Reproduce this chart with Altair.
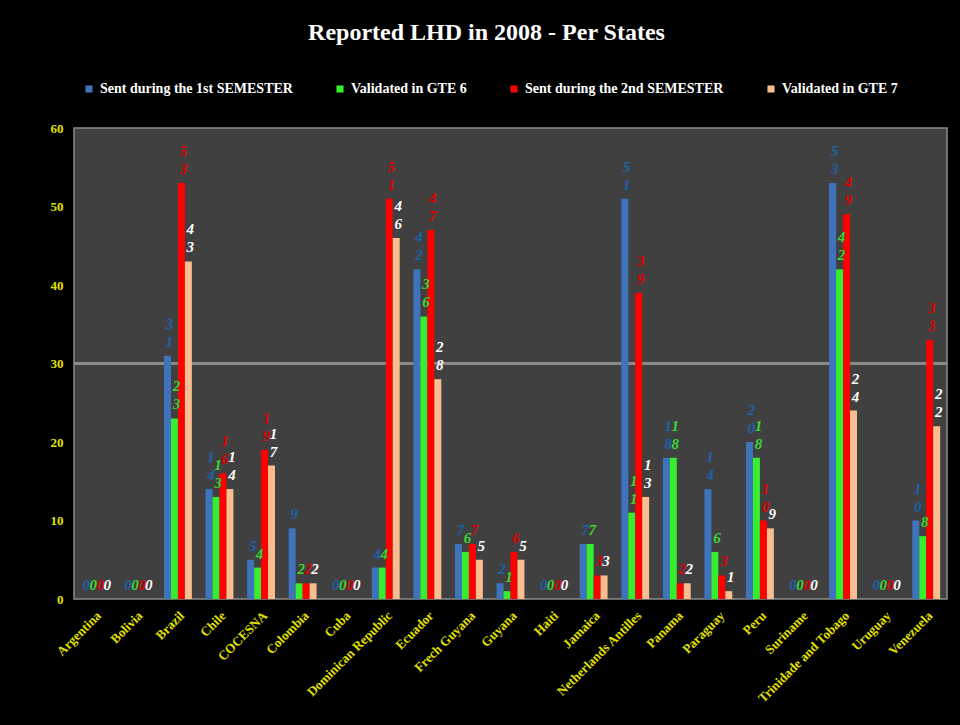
import altair as alt
import pandas as pd

countries = ["Argentina", "Bolivia", "Brazil", "Chile", "COCESNA", "Colombia", "Cuba",
             "Dominican Republic", "Ecuador", "Frech Guyana", "Guyana", "Haiti", "Jamaica",
             "Netherlands Antilles", "Panama", "Paraguay", "Peru", "Suriname",
             "Trinidade and Tobago", "Uruguay", "Venezuela"]
series_names = ["Sent during the 1st SEMESTER", "Validated in GTE 6",
                "Sent during the 2nd SEMESTER", "Validated in GTE 7"]
sent_s1 = [0, 0, 31, 14, 5, 9, 0, 4, 42, 7, 2, 0, 7, 51, 18, 14, 20, 0, 53, 0, 10]
gte6 = [0, 0, 23, 13, 4, 2, 0, 4, 36, 6, 1, 0, 7, 11, 18, 6, 18, 0, 42, 0, 8]
sent_s2 = [0, 0, 53, 16, 19, 2, 0, 51, 47, 7, 6, 0, 3, 39, 2, 3, 10, 0, 49, 0, 33]
gte7 = [0, 0, 43, 14, 17, 2, 0, 46, 28, 5, 5, 0, 3, 13, 2, 1, 9, 0, 24, 0, 22]
y_ticks = [0, 10, 20, 30, 40, 50, 60]

bar_colors = ["#3f74bd", "#36ee2e", "#ff0000", "#f9be8f"]
label_colors = ["#1c62ad", "#3bd736", "#e00000", "#ffffff"]

rows = []
for i, c in enumerate(countries):
    for s, vals in zip(series_names, [sent_s1, gte6, sent_s2, gte7]):
        v = vals[i]
        digits = str(v)
        rows.append({"country": c, "series": s, "value": v,
                     "lo": digits[-1], "hi": digits[0] if len(digits) > 1 else ""})
df = pd.DataFrame(rows)

YEL = "#e2e000"
FONT = "Liberation Serif"

x = alt.X("country:N", sort=countries,
          scale=alt.Scale(paddingInner=0.33, paddingOuter=0.165),
          axis=alt.Axis(title=None, labelAngle=-45, labelColor=YEL, labelFont=FONT,
                        labelFontWeight="bold", labelFontSize=13, ticks=False,
                        domain=False, labelPadding=10, labelLimit=300))
y = alt.Y("value:Q", scale=alt.Scale(domain=[0, 60], nice=False),
          axis=alt.Axis(title=None, values=y_ticks, grid=False, ticks=False, domain=False,
                        labelColor=YEL, labelFont=FONT, labelFontWeight="bold",
                        labelFontSize=13, labelPadding=11))
xo = alt.XOffset("series:N", sort=series_names, scale=alt.Scale(domain=series_names))

grid = alt.Chart(df).mark_rule(color="#8a8a8a", strokeWidth=1.5).encode(y=alt.datum(30))

bars = alt.Chart(df).mark_bar().encode(
    x=x, y=y, xOffset=xo,
    color=alt.Color("series:N", scale=alt.Scale(domain=series_names, range=bar_colors),
                    legend=alt.Legend(orient="none", legendX=8, legendY=-46,
                                      direction="horizontal", title=None,
                                      labelColor="white", labelFont=FONT,
                                      labelFontWeight="bold", labelFontSize=14,
                                      labelLimit=400, symbolType="square",
                                      symbolSize=50, symbolStrokeWidth=0,
                                      columnPadding=40)),
)

label_color = alt.Color("series:N",
                        scale=alt.Scale(domain=series_names, range=label_colors),
                        legend=None)
text_style = dict(baseline="bottom", dx=2, font=FONT, fontStyle="italic",
                  fontWeight="bold", fontSize=15)

labels_lo = alt.Chart(df).mark_text(dy=-6, **text_style).encode(
    x=x, y=y, xOffset=xo, text="lo:N", color=label_color)
labels_hi = alt.Chart(df).mark_text(dy=-24, **text_style).encode(
    x=x, y=y, xOffset=xo, text="hi:N", color=label_color)

chart = alt.layer(grid, bars, labels_lo, labels_hi).resolve_scale(
    color="independent").properties(
    width=873, height=471,
    autosize=alt.AutoSizeParams(type="none"),
    padding={"left": 74, "top": 128, "right": 13, "bottom": 126},
    background="black",
    title=alt.TitleParams("Reported LHD in 2008 - Per States", color="white", font=FONT,
                          fontSize=24, fontWeight="bold", anchor="middle", dx=-24,
                          offset=37),
).configure_view(fill="#404040", stroke="#8c8c8c", strokeWidth=1.5)

chart.save("out.html", embed_options={"renderer": "svg", "actions": False})
